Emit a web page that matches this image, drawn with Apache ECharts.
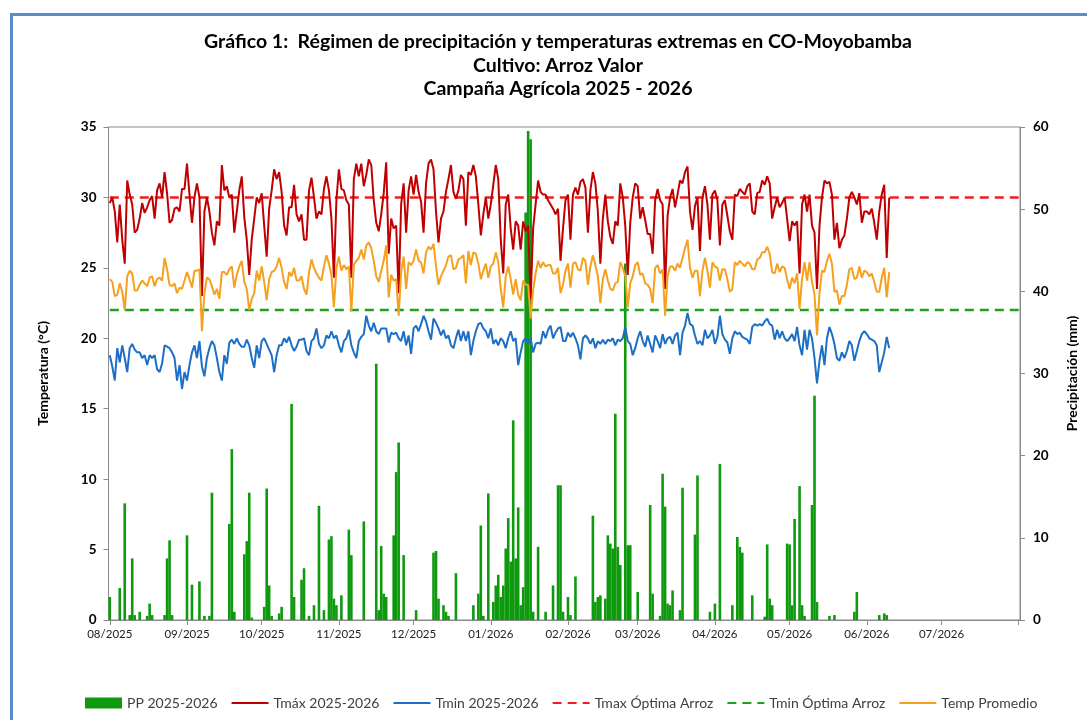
<!DOCTYPE html>
<html><head><meta charset="utf-8">
<script src="https://cdn.jsdelivr.net/npm/echarts@6/dist/echarts.min.js"></script>
<style>html,body{margin:0;padding:0;background:#fff}#c{width:1087px;height:720px}</style>
</head><body><div id="c"></div>
<script>
// ---- DATA (daily, starting 01/08/2025) ----
const startYear = 2025, startMonth = 7, startDay = 1;
const titleLines = [
  'Gráfico 1:  Régimen de precipitación y temperaturas extremas en CO-Moyobamba',
  'Cultivo: Arroz Valor',
  'Campaña Agrícola 2025 - 2026'
];
const seriesNames = ['PP 2025-2026','Tmáx 2025-2026','Tmin 2025-2026','Tmax Óptima Arroz','Tmin Óptima Arroz','Temp Promedio'];
const tmaxOptima = 30;
const tminOptima = 22;
const tempTicks = [0, 35, 5];
const ppTicks = [0, 60, 10];

const tmax = [
29.6,30.0,29.0,26.8,29.5,27.0,25.3,31.2,30.2,29.5,
27.5,27.7,28.5,29.6,28.9,29.3,29.8,30.1,28.5,30.5,
31.0,30.0,31.8,30.3,28.2,28.4,29.2,29.3,29.0,30.6,
30.6,32.4,30.2,28.2,30.0,31.0,30.0,23.0,29.0,30.0,
29.0,27.5,26.6,28.3,28.0,32.3,30.5,30.8,30.0,30.2,
27.5,29.0,30.5,31.5,28.6,27.0,24.5,27.0,28.5,30.0,
29.6,30.3,28.0,25.8,29.2,30.5,32.0,31.3,31.8,30.4,
28.0,27.3,29.3,29.3,30.9,28.8,28.3,28.8,27.0,27.0,
30.5,31.4,30.0,28.5,29.0,28.8,30.6,31.5,30.5,28.5,
24.3,29.8,32.0,30.6,30.5,29.8,29.5,24.3,31.3,32.4,
31.5,32.4,30.8,31.6,32.7,32.3,29.8,28.2,27.6,28.8,
30.3,32.5,26.0,28.5,27.8,28.0,23.2,29.5,31.0,27.5,
30.5,31.5,30.2,31.6,30.4,29.7,27.5,31.0,32.4,32.7,
32.0,29.0,26.8,28.5,29.0,30.4,31.3,32.3,30.4,29.9,
30.5,31.6,31.3,28.0,31.8,31.6,32.3,31.5,29.5,27.3,
28.8,30.0,28.5,29.5,30.9,32.3,31.3,27.0,24.6,29.5,
30.2,27.8,26.3,28.3,28.0,26.3,28.3,27.6,28.0,22.8,
27.8,29.5,31.2,30.4,30.2,30.2,29.8,29.5,29.2,28.8,
29.2,25.5,27.8,29.8,30.2,27.0,30.2,30.7,30.2,31.1,
31.3,30.7,27.5,30.5,31.8,31.0,29.0,25.3,28.5,30.2,
28.3,27.2,26.7,28.3,28.0,31.0,30.0,28.0,24.5,28.2,
30.0,31.0,30.8,28.5,29.3,28.4,27.4,27.4,26.0,29.8,
30.6,29.8,29.5,23.5,28.7,30.0,30.6,29.3,30.2,31.2,
31.0,31.8,32.2,29.0,27.7,29.4,30.0,26.2,30.0,30.8,
29.5,27.0,30.2,30.5,29.8,26.6,29.5,29.8,28.7,27.6,
27.0,30.2,30.1,30.6,30.4,30.2,30.8,31.0,29.0,28.8,
30.3,30.4,31.2,30.9,31.5,31.0,28.5,29.3,30.0,29.3,
29.6,30.0,28.5,26.9,28.3,28.0,28.3,24.6,29.5,30.2,
29.0,30.2,28.0,27.5,23.5,28.0,30.0,31.2,31.0,31.1,
30.2,27.0,28.2,26.4,27.0,27.3,28.5,30.0,30.4,30.0,
29.5,30.3,28.2,29.0,29.0,28.8,29.2,28.2,27.0,29.0,
30.2,30.9,25.7,30.0
];
const tmin = [
18.8,18.0,17.0,19.3,18.3,19.5,18.6,17.6,19.3,19.6,
19.2,19.0,19.0,18.6,18.8,18.1,18.8,18.6,18.8,17.8,
17.6,18.2,19.5,19.4,19.3,19.0,18.6,17.0,18.1,16.4,
17.6,17.0,18.1,19.0,19.5,18.6,19.8,18.0,17.3,18.6,
19.3,19.8,19.5,18.6,17.6,17.0,18.8,18.2,19.7,19.9,
19.6,20.0,19.6,19.4,19.4,19.9,19.5,18.6,17.9,19.5,
18.6,19.8,20.0,19.6,19.2,18.8,17.6,18.8,19.5,19.5,
20.0,19.7,20.1,19.5,19.1,19.4,19.9,19.9,20.0,19.1,
18.8,19.8,20.0,20.7,19.6,19.3,19.5,20.2,20.0,20.5,
20.0,20.2,19.5,19.0,19.8,20.0,20.6,19.5,19.0,18.6,
19.8,20.1,20.3,21.6,20.9,20.5,21.1,20.5,20.3,20.7,
20.7,20.7,19.7,20.4,20.3,20.4,20.0,19.8,20.5,19.5,
20.2,18.9,20.7,20.9,20.5,21.0,21.6,21.2,20.5,19.9,
21.4,21.1,20.7,20.2,20.6,20.0,20.2,19.5,19.3,20.0,
20.6,19.8,20.5,19.8,20.5,18.8,19.8,20.5,21.0,21.1,
20.7,20.5,20.0,20.7,19.6,19.9,19.5,20.0,19.8,19.3,
20.0,20.5,19.8,20.0,18.1,19.0,19.8,20.0,19.6,20.0,
19.0,19.6,19.7,19.6,20.5,20.0,20.6,20.9,20.0,20.4,
20.7,20.8,19.8,19.8,20.4,20.1,20.4,20.0,19.5,18.5,
20.0,20.2,20.0,19.6,20.0,19.3,19.8,19.6,19.9,19.6,
19.9,19.8,20.0,19.5,19.9,19.8,20.0,20.8,19.8,19.6,
18.8,19.3,20.0,20.5,19.8,19.4,20.2,19.6,19.0,20.2,
19.8,19.3,20.3,19.6,20.0,20.1,19.6,20.2,20.4,18.8,
20.4,20.9,21.8,21.0,20.9,20.2,19.6,19.8,19.5,20.6,
20.0,20.2,20.6,19.6,20.1,21.6,20.3,19.9,19.7,18.9,
20.0,20.5,20.3,20.4,20.1,20.0,19.9,19.6,20.8,21.0,
20.9,21.0,20.9,21.2,21.4,21.0,20.9,19.9,20.6,20.0,
20.5,20.0,19.8,20.0,20.3,19.8,20.8,19.5,18.8,20.6,
19.2,20.6,20.0,18.6,16.8,18.4,19.5,18.1,20.0,20.8,
20.3,19.6,18.6,18.4,19.0,18.6,19.1,19.8,19.5,18.4,
19.1,19.8,20.3,20.5,20.3,20.0,19.9,19.8,19.5,17.6,
18.3,19.0,20.1,19.3
];
const tprom = [
24.2,24.0,23.0,23.1,23.9,23.3,22.0,24.4,24.8,24.6,
23.4,23.4,23.8,24.1,23.9,23.7,24.3,24.4,23.7,24.2,
24.3,24.1,25.7,24.9,23.8,23.7,23.9,23.2,23.6,23.5,
24.1,24.7,24.2,23.6,24.8,24.8,24.9,20.5,23.2,24.3,
24.2,23.7,23.1,23.5,22.8,24.7,24.7,24.5,24.9,25.1,
23.6,24.5,25.1,25.5,24.0,23.5,22.0,22.8,23.2,24.8,
24.1,25.1,24.0,22.7,24.2,24.7,24.8,25.1,25.7,25.0,
24.0,23.5,24.7,24.4,25.0,24.1,24.1,24.4,23.5,23.1,
24.7,25.6,25.0,24.6,24.3,24.1,25.1,25.9,25.3,24.5,
22.2,25.0,25.8,24.8,25.2,24.9,25.1,21.9,25.2,25.5,
25.7,26.3,25.6,26.6,26.8,26.4,25.5,24.4,24.0,24.8,
25.5,26.6,22.9,24.5,24.1,24.2,21.6,24.7,25.8,23.5,
25.4,25.2,25.5,26.3,25.5,25.4,24.6,26.1,26.5,26.3,
26.7,25.1,23.8,24.4,24.8,25.2,25.8,25.9,24.9,25.0,
25.6,25.7,25.9,23.9,26.2,25.2,26.1,26.0,25.3,24.2,
24.8,25.3,24.3,25.1,25.3,26.1,25.4,23.5,22.2,24.4,
25.1,24.2,23.1,24.2,23.1,22.7,24.1,23.8,23.8,21.4,
23.4,24.6,25.5,25.0,25.4,25.1,25.2,25.2,24.6,24.6,
25.0,23.2,23.8,24.8,25.3,23.6,25.3,25.4,24.9,24.8,
25.7,25.5,23.8,25.1,25.9,25.2,24.4,22.5,24.2,24.9,
24.1,23.5,23.4,23.9,24.0,25.4,25.0,24.4,22.2,23.9,
24.4,25.2,25.4,24.5,24.6,23.9,23.8,23.5,22.5,25.0,
25.2,24.6,24.9,21.6,24.4,25.1,25.1,24.8,25.3,25.0,
25.7,26.4,27.0,25.0,24.3,24.8,24.8,23.0,24.8,25.7,
24.8,23.6,25.4,25.1,25.0,24.1,24.9,24.9,24.2,23.3,
23.5,25.4,25.2,25.5,25.3,25.1,25.4,25.3,24.9,24.9,
25.6,25.7,26.1,26.1,26.5,26.0,24.7,24.6,25.3,24.7,
25.1,25.0,24.2,23.5,24.3,23.9,24.6,22.1,24.2,25.4,
24.1,25.4,24.0,23.1,20.2,23.2,24.8,24.7,25.5,26.0,
25.3,23.3,23.4,22.4,23.0,23.0,23.8,24.9,25.0,24.2,
24.3,25.1,24.3,24.8,24.7,24.4,24.6,24.0,23.3,23.3,
24.3,25.0,22.9,24.7
];
const pp = [
2.8,0,0,0,3.9,0,14.2,0,0.6,7.5,
0.6,0,1.0,0,0,0.5,2.0,0.6,0,0,
0,0,0.6,7.5,9.7,0.6,0,0,0,0,
0,10.3,0,4.3,0,0,4.7,0,0.5,0,
0.5,15.5,0,0,0,0,0,0,11.7,20.8,
1.0,0,0,0,8.0,9.6,15.5,0.3,0,0,
0,0,1.6,16.0,4.2,0.5,0,0,0.8,1.6,
0,0,0,26.3,2.8,0,0,4.9,6.3,0,
0.5,0,1.8,0,13.9,0,1.2,0,9.8,10.2,
2.6,1.8,0,3.0,0,0,11.0,7.9,0,0,
0,0,12.0,0,0,0,0,31.2,1.2,9.0,
3.2,2.8,0,0,10.3,18.0,21.6,0,7.9,0,
0,0,0,1.2,0,0,0,0,0,0,
8.2,8.4,2.6,0,1.8,1.0,0.5,0,0,5.7,
0,0,0,0,0,0,1.8,0,3.2,11.5,
0.5,0,15.4,0,2.2,4.2,5.5,2.8,4.2,8.7,
12.4,7.1,24.3,7.5,13.7,1.8,4.0,49.6,59.5,58.5,
1.0,0,8.9,0,0,1.0,0,0,4.2,0,
16.4,16.4,1.0,0,2.8,0.6,0,5.3,0,0,
0,0,0,0,12.7,2.2,2.8,3.0,0,2.6,
10.3,9.3,8.7,25.1,8.9,6.7,0,43.4,9.1,9.1,
0,0,3.4,0,0,0,0,14.0,3.2,0,
0,0.5,17.8,13.8,2.0,1.8,3.6,0,0,1.2,
16.1,0,0,0,0,10.4,17.6,0,0,0,
0,1.0,0,2.0,0,19.0,0,0,0,0,
1.8,0,10.1,8.9,8.2,0,0,0,3.0,0,
0,0,0,0.4,9.2,2.6,1.8,0,0,0,
0,0,9.3,9.2,1.8,12.3,0,16.3,1.8,0.5,
0,0,14.0,27.3,2.2,0,0,0,0,0.5,
0,0.6,0,0,0,0,0,0,0,1.0,
3.4,0,0,0,0,0,0,0,0,0.6,
0,0.8,0.6,0
];

// ---- BUILD ----
const dayMs = (i) => new Date(startYear, startMonth, startDay + i).getTime();
const xMin = new Date(2025, 7, 1).getTime();
const xMax = new Date(2026, 7, 1).getTime();
const pairs = (arr) => arr.map((v, i) => [dayMs(i), v]);
const FONT = 'Lato, "Open Sans", sans-serif';
const pad = (n) => (n < 10 ? '0' : '') + n;
const noSym = {opacity: 0, borderWidth: 0};

const chart = echarts.init(document.getElementById('c'), null, {renderer: 'canvas'});
const axisGray = '#8a8a8a';
chart.setOption({
  backgroundColor: '#ffffff',
  animation: false,
  textStyle: {fontFamily: FONT},
  graphic: [
    {type: 'rect', silent: true, z: 100,
     shape: {x: 11.5, y: 14.5, width: 1200, height: 900},
     style: {fill: 'none', stroke: '#5B8BCB', lineWidth: 3}},
    ...titleLines.map((t, i) => ({
      type: 'text', x: 558, y: 42 + i * 23.5, silent: true,
      style: {text: t, fill: '#000', font: 'bold 19.5px ' + FONT,
        align: 'center', verticalAlign: 'middle', textAlign: 'center', textVerticalAlign: 'middle'}
    }))
  ],
  grid: {left: 108.5, right: 65, top: 127, bottom: 100, show: true, borderColor: axisGray, borderWidth: 1},
  legend: {
    left: 80, top: 691, itemWidth: 37, itemHeight: 11, itemGap: 13,
    textStyle: {fontSize: 14, color: '#404040', fontFamily: FONT},
    data: [
      {name: seriesNames[0], icon: 'rect'},
      {name: seriesNames[1], itemStyle: noSym},
      {name: seriesNames[2], itemStyle: noSym},
      {name: seriesNames[3], itemStyle: noSym},
      {name: seriesNames[4], itemStyle: noSym},
      {name: seriesNames[5], itemStyle: noSym}
    ]
  },
  xAxis: {
    type: 'time', min: xMin, max: xMax, splitNumber: 12,
    minInterval: 28 * 86400000,
    axisLine: {show: true, lineStyle: {color: axisGray}},
    axisTick: {show: true, length: 5, lineStyle: {color: axisGray}},
    splitLine: {show: false},
    axisLabel: {
      color: '#222', fontSize: 11.5, margin: 8, fontFamily: FONT, hideOverlap: false,
      formatter: (v) => { if (v >= xMax - 86400000) return ''; const d = new Date(v); return pad(d.getMonth() + 1) + '/' + d.getFullYear(); }
    }
  },
  yAxis: [
    {type: 'value', min: tempTicks[0], max: tempTicks[1], interval: tempTicks[2],
     name: 'Temperatura (°C)', nameLocation: 'middle', nameGap: 58,
     nameTextStyle: {fontSize: 14, fontWeight: 'bold', color: '#000', fontFamily: FONT},
     axisLine: {show: true, lineStyle: {color: axisGray}},
     axisTick: {show: true, length: 5, lineStyle: {color: axisGray}},
     splitLine: {show: false},
     axisLabel: {fontSize: 13.5, fontWeight: 'bold', color: '#000', margin: 12, fontFamily: FONT}},
    {type: 'value', min: ppTicks[0], max: ppTicks[1], interval: ppTicks[2], position: 'right',
     name: 'Precipitación (mm)', nameLocation: 'middle', nameGap: 45, nameRotate: 90,
     nameTextStyle: {fontSize: 14, fontWeight: 'bold', color: '#000', fontFamily: FONT},
     axisLine: {show: true, lineStyle: {color: axisGray}},
     axisTick: {show: true, length: 5, lineStyle: {color: axisGray}},
     splitLine: {show: false},
     axisLabel: {fontSize: 13.5, fontWeight: 'bold', color: '#000', margin: 13, fontFamily: FONT}}
  ],
  series: [
    {name: seriesNames[0], type: 'bar', yAxisIndex: 1, data: pairs(pp), barWidth: 2.6,
     itemStyle: {color: '#0E990E'}, z: 1},
    {name: seriesNames[1], type: 'line', data: pairs(tmax), symbol: 'none',
     lineStyle: {color: '#C00000', width: 2}, itemStyle: {color: '#C00000'}, z: 3},
    {name: seriesNames[2], type: 'line', data: pairs(tmin), symbol: 'none',
     lineStyle: {color: '#1C6FC4', width: 2}, itemStyle: {color: '#1C6FC4'}, z: 3},
    {name: seriesNames[3], type: 'line', data: [[xMin, tmaxOptima], [xMax, tmaxOptima]], symbol: 'none',
     lineStyle: {color: '#F01E1E', width: 2.5, type: [9, 6]}, itemStyle: {color: '#F01E1E'}, z: 2},
    {name: seriesNames[4], type: 'line', data: [[xMin, tminOptima], [xMax, tminOptima]], symbol: 'none',
     lineStyle: {color: '#1EA21E', width: 2.5, type: [9, 6]}, itemStyle: {color: '#1EA21E'}, z: 2},
    {name: seriesNames[5], type: 'line', data: pairs(tprom), symbol: 'none',
     lineStyle: {color: '#F5A01E', width: 2}, itemStyle: {color: '#F5A01E'}, z: 3}
  ]
});
</script></body></html>
